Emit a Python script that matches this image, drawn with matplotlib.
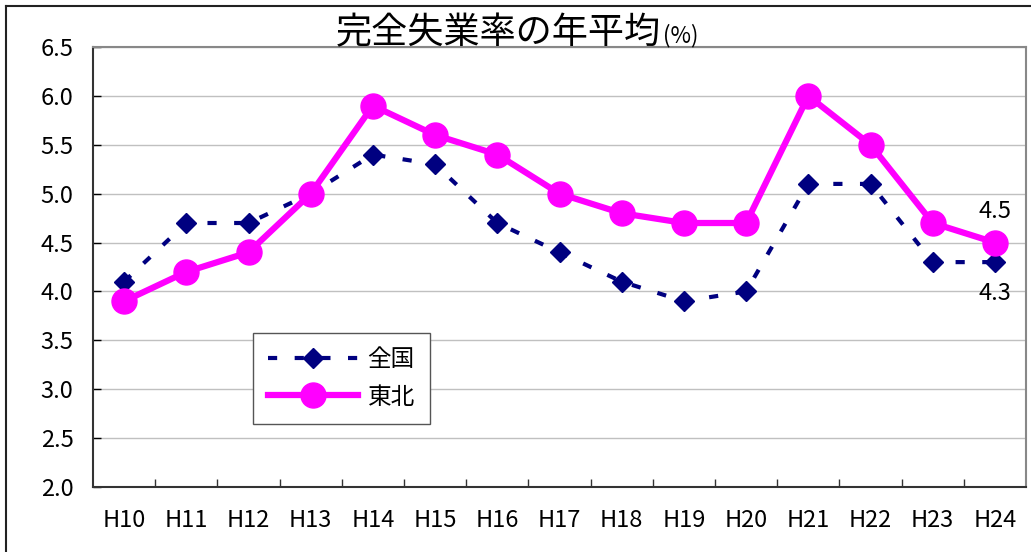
import numpy as np
import matplotlib.pyplot as plt
from matplotlib.lines import Line2D
from matplotlib.ticker import MultipleLocator

plt.rcParams['font.family'] = ['Noto Sans CJK JP', 'DejaVu Sans']

years = ['H10', 'H11', 'H12', 'H13', 'H14', 'H15', 'H16', 'H17',
         'H18', 'H19', 'H20', 'H21', 'H22', 'H23', 'H24']
zenkoku = [4.1, 4.7, 4.7, 5.0, 5.4, 5.3, 4.7, 4.4, 4.1, 3.9, 4.0, 5.1, 5.1, 4.3, 4.3]
tohoku = [3.9, 4.2, 4.4, 5.0, 5.9, 5.6, 5.4, 5.0, 4.8, 4.7, 4.7, 6.0, 5.5, 4.7, 4.5]

fig = plt.figure(figsize=(10.31, 5.52), dpi=100)
ax = fig.add_axes([0.0902, 0.1178, 0.905, 0.797])

x = np.arange(len(years))
ax.plot(x, zenkoku, color='#000080', lw=3, ls=(0, (2.2, 4.2)),
        marker='D', ms=10, label='全国', zorder=3)
ax.plot(x, tohoku, color='#FF00FF', lw=4.5, marker='o', ms=18,
        label='東北', zorder=4)

ax.text(x[-1], tohoku[-1] + 0.2, f'{tohoku[-1]}', ha='center', va='bottom', fontsize=17)
ax.text(x[-1], zenkoku[-1] - 0.2, f'{zenkoku[-1]}', ha='center', va='top', fontsize=17)

ax.set_xlim(-0.5, len(years) - 0.5)
ax.set_ylim(2.0, 6.5)
ax.yaxis.set_major_locator(MultipleLocator(0.5))
ax.set_yticklabels([f'{v:.1f}' for v in ax.get_yticks()])
ax.set_xticks(x)
ax.set_xticklabels(years)
ax.set_xticks(np.arange(0.5, len(years) - 0.5), minor=True)
ax.tick_params(axis='x', which='major', length=0, pad=16, labelsize=17)
ax.tick_params(axis='x', which='minor', length=6, direction='in', width=1, color='#333333')
ax.tick_params(axis='y', length=6, direction='in', width=1, labelsize=17, pad=14)
ax.grid(axis='y', color='#c0c0c0', lw=1)
ax.set_axisbelow(True)
for s in ['left', 'bottom']:
    ax.spines[s].set_color('#333333')
    ax.spines[s].set_linewidth(1.5)
for s in ['top', 'right']:
    ax.spines[s].set_color('#888888')
    ax.spines[s].set_linewidth(1.5)

leg = ax.legend(loc='upper left', bbox_to_anchor=(0.1715, 0.35), borderaxespad=0,
                fontsize=17, frameon=True, fancybox=False, edgecolor='#555555',
                framealpha=1, handlelength=3.8, borderpad=0.65, labelspacing=0.6,
                handletextpad=0.4)
leg.get_frame().set_linewidth(1)

fig.text(0.641, 0.94, '完全失業率の年平均', ha='right', va='center', fontsize=26)
fig.text(0.643, 0.935, '(%)', ha='left', va='center', fontsize=16)

# chart frame, only the left and top edges are inside the image
fig.add_artist(Line2D([0.006, 0.006], [0, 0.99], color='#222222', lw=1.5))
fig.add_artist(Line2D([0.006, 1.0], [0.99, 0.99], color='#222222', lw=1.5))

fig.savefig('out.png', dpi=100)
